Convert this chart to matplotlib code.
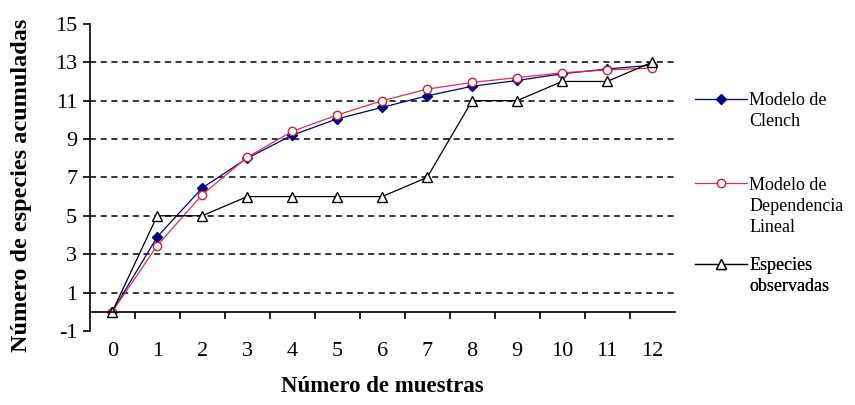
import matplotlib.pyplot as plt
import numpy as np
from matplotlib.ticker import FixedLocator

plt.rcParams['font.family'] = ['Liberation Serif', 'DejaVu Serif']
plt.rcParams['axes.unicode_minus'] = False

# values
muestras = list(range(13))
clench = [0, 3.9, 6.45, 8.0, 9.2, 10.05, 10.65, 11.25, 11.75, 12.05, 12.4, 12.65, 12.85]
lineal = [0, 3.45, 6.1, 8.05, 9.4, 10.25, 11.0, 11.6, 11.95, 12.2, 12.45, 12.6, 12.7]
observadas = [0, 5, 5, 6, 6, 6, 6, 7, 11, 11, 12, 12, 13]
etiquetas = ["Modelo de\nClench", "Modelo de\nDependencia\nLineal", "Especies\nobservadas"]
yticks = list(range(-1, 16, 2))

fig = plt.figure(figsize=(8.55, 4.05), dpi=100)
ax = fig.add_axes([0.105, 0.183, 0.684, 0.758])

l1, = ax.plot(muestras, clench, color="#000080", lw=0.9, marker="D", ms=5,
              mfc="#000080", mec="#000080")
l2, = ax.plot(muestras, lineal, color="#e0304a", lw=0.9, marker="o", ms=6,
              mfc="white", mec="#d02030", mew=1.0)
l3, = ax.plot(muestras, observadas, color="black", lw=0.9, marker="^", ms=7,
              mfc="white", mec="black", mew=1.0)

ax.set_xlim(-0.5, 12.5)
ax.set_ylim(-1, 15)
ax.set_yticks(yticks)
ax.set_xticks(muestras)
ax.xaxis.set_minor_locator(FixedLocator(np.arange(0.5, 12, 1)))

ax.spines[['top', 'right']].set_visible(False)
ax.spines['bottom'].set_position(('data', 0))
for s in ['left', 'bottom']:
    ax.spines[s].set_linewidth(1.2)

ax.tick_params(axis='y', direction='out', length=5, width=1.2, labelsize=16, pad=4)
ax.tick_params(axis='x', which='major', length=0, labelsize=16, pad=22)
ax.tick_params(axis='x', which='minor', direction='out', length=5, width=1.2)

ax.yaxis.grid(True, linestyle=(0, (4, 3)), color="black", lw=1.1)
gl = ax.get_ygridlines()
gl[0].set_visible(False)
gl[-1].set_visible(False)
ax.set_axisbelow(True)

ax.set_xlabel("Número de muestras", fontsize=16.5, fontweight="bold")
ax.xaxis.set_label_coords(0.5, -0.148)
ax.set_ylabel("Número de especies acumuladas", fontsize=17.5, fontweight="bold")
ax.yaxis.set_label_coords(-0.099, 0.475)

leg_y = [0.777, 0.502, 0.24]
for h, lab, yy in zip([l1, l2, l3], etiquetas, leg_y):
    lg = ax.legend([h], [lab], loc="upper left", bbox_to_anchor=(1.035, yy),
                   frameon=False, fontsize=13, handlelength=2.9, handletextpad=0.1,
                   borderaxespad=0, borderpad=0)
    # put the handle next to the first line of the label, as in the original
    for col in lg._legend_handle_box.get_children():
        for item in col.get_children():
            item.align = "top"
    for t in lg.get_texts():
        t.set_linespacing(1.3)
    ax.add_artist(lg)

fig.savefig("out.png", dpi=100)
